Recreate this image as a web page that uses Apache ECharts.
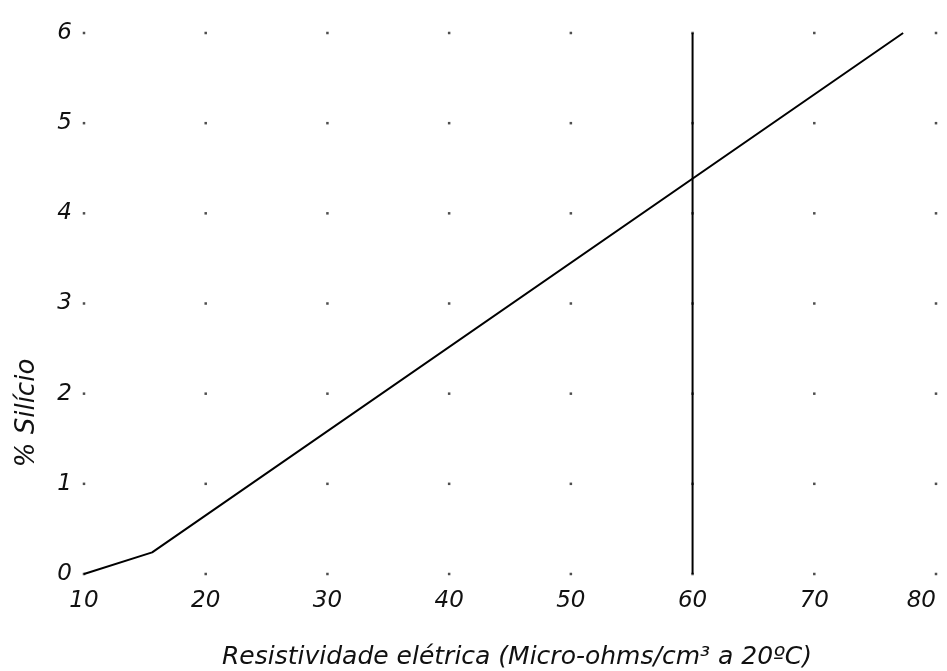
<!DOCTYPE html>
<html>
<head>
<meta charset="utf-8">
<script src="https://cdn.jsdelivr.net/npm/echarts@6/dist/echarts.min.js"></script>
<style>html,body{margin:0;padding:0;background:#fff}#c{width:947px;height:671px}</style>
</head>
<body>
<div id="c"></div>
<script>
var xTicks = [10, 20, 30, 40, 50, 60, 70, 80];
var yTicks = [0, 1, 2, 3, 4, 5, 6];
var curveX = [10, 15.6, 77.3];
var curveY = [0, 0.24, 6];
var refX = [60, 60];
var refY = [0, 6];

var curve = curveX.map(function (x, i) { return [x, curveY[i]]; });
var refLine = refX.map(function (x, i) { return [x, refY[i]]; });
var dots = [];
xTicks.forEach(function (x) { yTicks.forEach(function (y) { dots.push([x, y]); }); });

var font = '"DejaVu Sans", "Liberation Sans", Arial, sans-serif';
var chart = echarts.init(document.getElementById('c'), null, {renderer: 'canvas'});
chart.setOption({
  backgroundColor: '#fff',
  animation: false,
  grid: {left: 84, right: 11, top: 33, bottom: 97, containLabel: false, outerBoundsMode: 'none'},
  xAxis: {
    type: 'value', min: 10, max: 80, interval: 10,
    axisLine: {show: false}, axisTick: {show: false}, splitLine: {show: false},
    axisLabel: {margin: 16, fontFamily: font, fontStyle: 'italic', fontSize: 23, color: '#111',
                alignMaxLabel: 'right'},
    name: 'Resistividade elétrica (Micro-ohms/cm³ a 20ºC)',
    nameLocation: 'middle', nameGap: 71,
    nameTextStyle: {fontFamily: font, fontStyle: 'italic', fontSize: 25, color: '#111', padding: [0, 0, 0, 14]}
  },
  yAxis: {
    type: 'value', min: 0, max: 6, interval: 1,
    axisLine: {show: false}, axisTick: {show: false}, splitLine: {show: false},
    axisLabel: {margin: 12, fontFamily: font, fontStyle: 'italic', fontSize: 23, color: '#111'}
  },
  graphic: [{
    type: 'text', x: 27, y: 413, rotation: Math.PI / 2, origin: [0, 0],
    style: {text: '% Silício', font: 'italic 26px ' + font, fill: '#111',
            textAlign: 'center', textVerticalAlign: 'middle'}
  }],
  series: [
    {type: 'scatter', data: dots, symbol: 'rect', symbolSize: 2.5,
     itemStyle: {color: '#222'}, silent: true, z: 1},
    {type: 'line', data: curve, symbol: 'none', lineStyle: {color: '#000', width: 2}, z: 3},
    {type: 'line', data: refLine, symbol: 'none', lineStyle: {color: '#000', width: 2}, z: 3}
  ]
});
</script>
</body>
</html>
